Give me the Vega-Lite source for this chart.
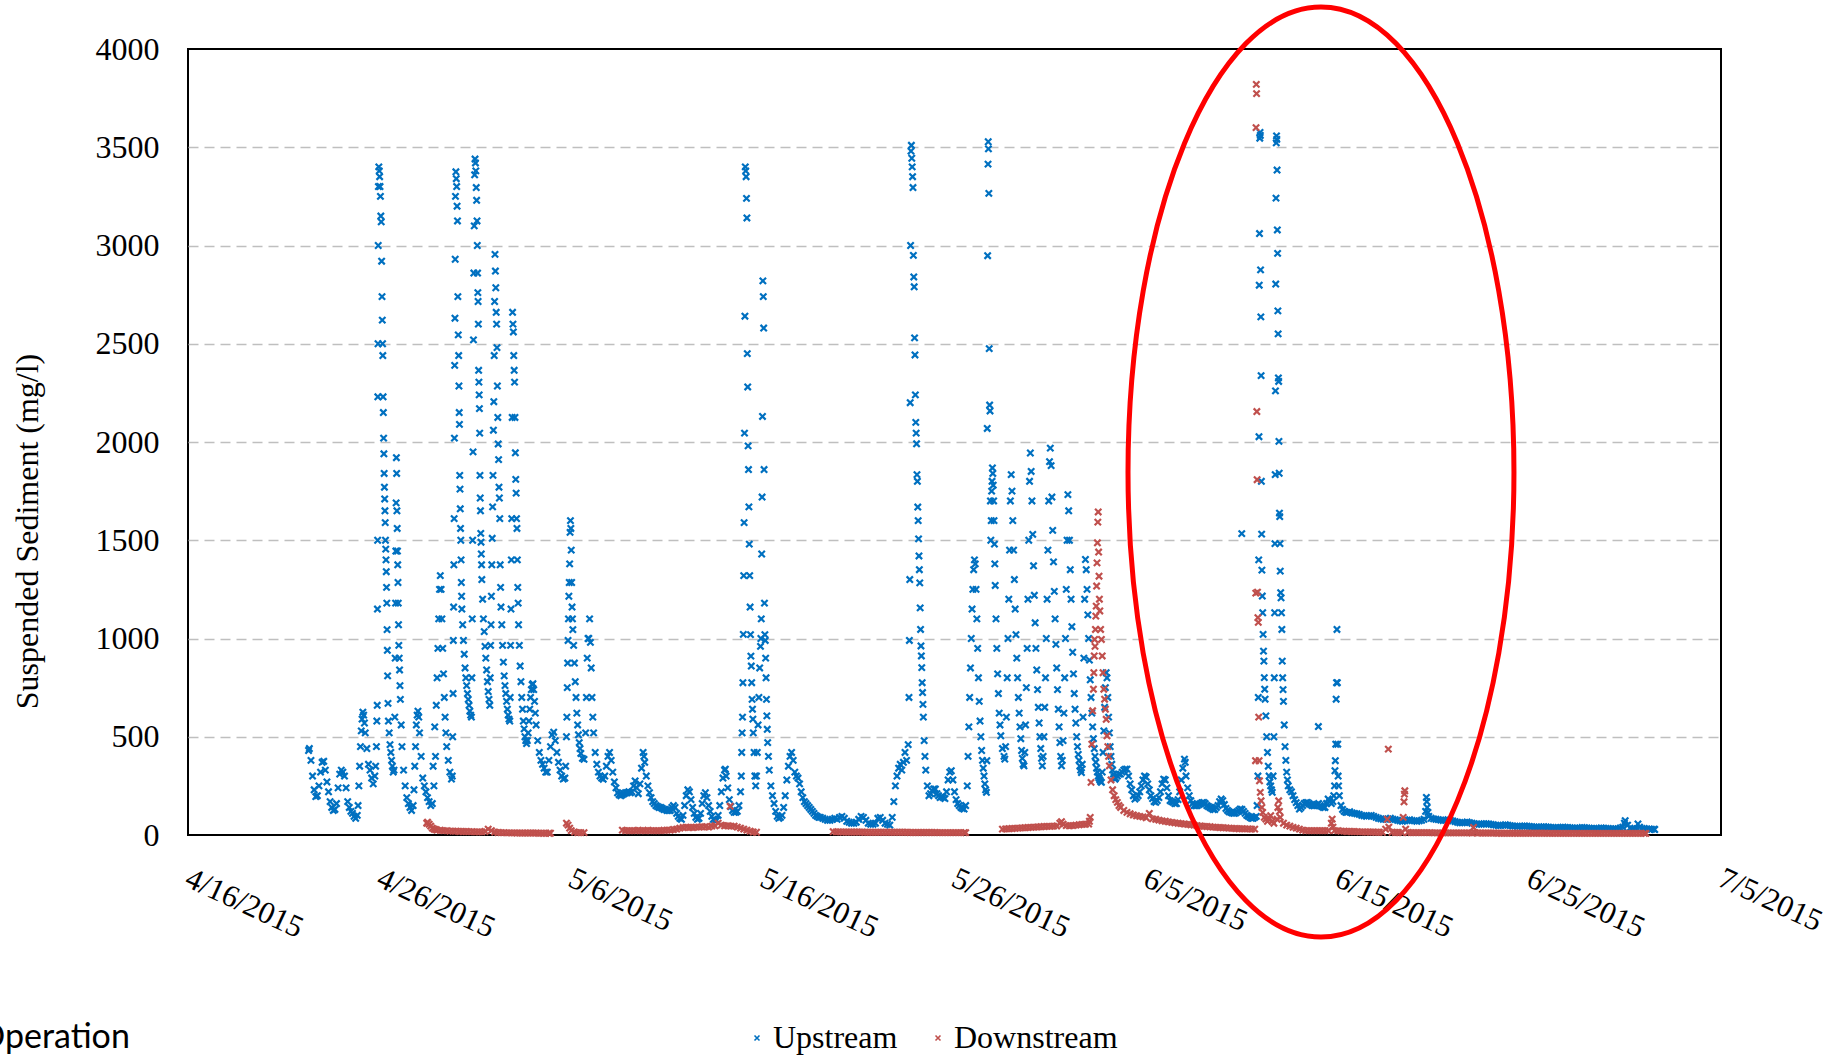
{
"$schema":"https://vega.github.io/schema/vega-lite/v6.json",
"width":1533,"height":786,
"autosize":{"type":"none"},
"padding":{"left":188,"top":49,"right":122,"bottom":220},
"background":"white",
"title":{"text":"Operation","orient":"bottom","anchor":"start","frame":"group","font":"Lato","fontSize":34,"fontWeight":"normal","color":"#000","baseline":"alphabetic","dx":-210,"dy":-6,"offset":0},
"config":{
"font":"Liberation Serif",
"view":{"stroke":"#000","strokeWidth":2},
"axis":{"labelFont":"Liberation Serif","labelFontSize":32,"labelColor":"#000","ticks":false,"domain":false,"titleFont":"Liberation Serif","titleFontSize":32,"titleFontWeight":"normal","titleColor":"#000"},
"legend":{"labelFont":"Liberation Serif","labelFontSize":32,"labelColor":"#000","labelLimit":0}
},
"layer":[
{"data":{"format":{"parse":{"t":"date:'%Y-%m-%d %H:%M'"}},"values":[
{"t":"2015-04-22 07:00","v":430},{"t":"2015-04-22 08:00","v":440},{"t":"2015-04-22 10:00","v":380},{"t":"2015-04-22 12:00","v":300},{"t":"2015-04-22 14:00","v":230},{"t":"2015-04-22 16:00","v":195},{"t":"2015-04-22 18:00","v":200},{"t":"2015-04-22 20:00","v":250},{"t":"2015-04-22 22:00","v":320},
{"t":"2015-04-23 00:00","v":370},{"t":"2015-04-23 02:00","v":375},{"t":"2015-04-23 04:00","v":330},{"t":"2015-04-23 06:00","v":270},{"t":"2015-04-23 08:00","v":220},{"t":"2015-04-23 10:00","v":170},{"t":"2015-04-23 12:00","v":140},{"t":"2015-04-23 14:00","v":125},{"t":"2015-04-23 16:00","v":130},{"t":"2015-04-23 18:00","v":160},{"t":"2015-04-23 20:00","v":240},{"t":"2015-04-23 22:00","v":310},
{"t":"2015-04-24 00:00","v":330},{"t":"2015-04-24 02:00","v":320},{"t":"2015-04-24 04:00","v":300},{"t":"2015-04-24 06:00","v":240},{"t":"2015-04-24 08:00","v":170},{"t":"2015-04-24 10:00","v":140},{"t":"2015-04-24 12:00","v":120},{"t":"2015-04-24 14:00","v":110},{"t":"2015-04-24 16:00","v":95},{"t":"2015-04-24 18:00","v":85},{"t":"2015-04-24 20:00","v":100},{"t":"2015-04-24 21:00","v":150},{"t":"2015-04-24 22:00","v":250},{"t":"2015-04-24 23:00","v":350},
{"t":"2015-04-25 00:00","v":450},{"t":"2015-04-25 01:00","v":530},{"t":"2015-04-25 02:00","v":590},{"t":"2015-04-25 03:00","v":625},{"t":"2015-04-25 04:00","v":610},{"t":"2015-04-25 05:00","v":570},{"t":"2015-04-25 06:00","v":520},{"t":"2015-04-25 08:00","v":440},{"t":"2015-04-25 10:00","v":360},{"t":"2015-04-25 12:00","v":330},{"t":"2015-04-25 14:00","v":290},{"t":"2015-04-25 16:00","v":260},{"t":"2015-04-25 18:00","v":300},{"t":"2015-04-25 19:00","v":350},{"t":"2015-04-25 20:00","v":450},{"t":"2015-04-25 20:30","v":580},{"t":"2015-04-25 21:00","v":660},{"t":"2015-04-25 21:15","v":1150},{"t":"2015-04-25 21:30","v":1500},{"t":"2015-04-25 21:45","v":2230},{"t":"2015-04-25 22:00","v":2500},{"t":"2015-04-25 22:15","v":3000},{"t":"2015-04-25 22:30","v":3300},{"t":"2015-04-25 23:00","v":3400},{"t":"2015-04-25 23:30","v":3380},
{"t":"2015-04-26 00:00","v":3350},{"t":"2015-04-26 00:30","v":3300},{"t":"2015-04-26 01:00","v":3250},{"t":"2015-04-26 01:30","v":3150},{"t":"2015-04-26 02:00","v":3120},{"t":"2015-04-26 02:30","v":2920},{"t":"2015-04-26 03:00","v":2740},{"t":"2015-04-26 03:20","v":2620},{"t":"2015-04-26 03:40","v":2500},{"t":"2015-04-26 04:00","v":2440},{"t":"2015-04-26 04:20","v":2230},{"t":"2015-04-26 04:40","v":2150},{"t":"2015-04-26 05:00","v":2020},{"t":"2015-04-26 05:20","v":1940},{"t":"2015-04-26 05:40","v":1840},{"t":"2015-04-26 06:00","v":1770},{"t":"2015-04-26 06:20","v":1710},{"t":"2015-04-26 06:40","v":1650},{"t":"2015-04-26 07:00","v":1590},{"t":"2015-04-26 07:20","v":1500},{"t":"2015-04-26 07:40","v":1455},{"t":"2015-04-26 08:00","v":1400},{"t":"2015-04-26 08:20","v":1340},{"t":"2015-04-26 08:40","v":1260},{"t":"2015-04-26 09:00","v":1180},{"t":"2015-04-26 09:20","v":1045},{"t":"2015-04-26 09:40","v":940},{"t":"2015-04-26 10:00","v":810},{"t":"2015-04-26 10:30","v":670},{"t":"2015-04-26 11:00","v":580},{"t":"2015-04-26 12:00","v":520},{"t":"2015-04-26 13:00","v":460},{"t":"2015-04-26 14:00","v":420},{"t":"2015-04-26 15:00","v":380},{"t":"2015-04-26 16:00","v":350},{"t":"2015-04-26 17:00","v":320},{"t":"2015-04-26 18:00","v":330},{"t":"2015-04-26 19:00","v":600},{"t":"2015-04-26 19:30","v":900},{"t":"2015-04-26 20:00","v":1180},{"t":"2015-04-26 20:20","v":1445},{"t":"2015-04-26 20:40","v":1690},{"t":"2015-04-26 21:00","v":1920},{"t":"2015-04-26 21:20","v":1840},{"t":"2015-04-26 21:40","v":1650},{"t":"2015-04-26 22:00","v":1560},{"t":"2015-04-26 22:20","v":1445},{"t":"2015-04-26 22:40","v":1375},{"t":"2015-04-26 23:00","v":1285},{"t":"2015-04-26 23:20","v":1180},{"t":"2015-04-26 23:40","v":1070},
{"t":"2015-04-27 00:00","v":965},{"t":"2015-04-27 00:30","v":900},{"t":"2015-04-27 01:00","v":840},{"t":"2015-04-27 01:30","v":760},{"t":"2015-04-27 02:00","v":690},{"t":"2015-04-27 03:00","v":560},{"t":"2015-04-27 04:00","v":450},{"t":"2015-04-27 06:00","v":330},{"t":"2015-04-27 08:00","v":250},{"t":"2015-04-27 10:00","v":190},{"t":"2015-04-27 12:00","v":160},{"t":"2015-04-27 14:00","v":140},{"t":"2015-04-27 16:00","v":125},{"t":"2015-04-27 18:00","v":150},{"t":"2015-04-27 19:00","v":230},{"t":"2015-04-27 20:00","v":350},{"t":"2015-04-27 21:00","v":450},{"t":"2015-04-27 22:00","v":560},{"t":"2015-04-27 23:00","v":610},
{"t":"2015-04-28 00:00","v":630},{"t":"2015-04-28 01:00","v":600},{"t":"2015-04-28 02:00","v":520},{"t":"2015-04-28 04:00","v":400},{"t":"2015-04-28 06:00","v":290},{"t":"2015-04-28 08:00","v":250},{"t":"2015-04-28 10:00","v":220},{"t":"2015-04-28 12:00","v":190},{"t":"2015-04-28 14:00","v":170},{"t":"2015-04-28 16:00","v":150},{"t":"2015-04-28 18:00","v":160},{"t":"2015-04-28 19:00","v":350},{"t":"2015-04-28 20:00","v":250},{"t":"2015-04-28 21:00","v":550},{"t":"2015-04-28 22:00","v":400},{"t":"2015-04-28 23:00","v":660},
{"t":"2015-04-29 00:00","v":800},{"t":"2015-04-29 01:00","v":950},{"t":"2015-04-29 02:00","v":1100},{"t":"2015-04-29 03:00","v":1250},{"t":"2015-04-29 04:00","v":1320},{"t":"2015-04-29 05:00","v":1250},{"t":"2015-04-29 06:00","v":1100},{"t":"2015-04-29 07:00","v":950},{"t":"2015-04-29 08:00","v":820},{"t":"2015-04-29 09:00","v":700},{"t":"2015-04-29 10:00","v":600},{"t":"2015-04-29 11:00","v":520},{"t":"2015-04-29 12:00","v":450},{"t":"2015-04-29 14:00","v":380},{"t":"2015-04-29 16:00","v":320},{"t":"2015-04-29 18:00","v":285},{"t":"2015-04-29 19:00","v":300},{"t":"2015-04-29 19:30","v":500},{"t":"2015-04-29 20:00","v":720},{"t":"2015-04-29 20:20","v":990},{"t":"2015-04-29 20:40","v":1160},{"t":"2015-04-29 21:00","v":1375},{"t":"2015-04-29 21:20","v":1610},{"t":"2015-04-29 21:40","v":2020},{"t":"2015-04-29 22:00","v":2390},{"t":"2015-04-29 22:20","v":2630},{"t":"2015-04-29 22:40","v":2930},{"t":"2015-04-29 23:00","v":3250},{"t":"2015-04-29 23:30","v":3375},
{"t":"2015-04-30 00:00","v":3340},{"t":"2015-04-30 00:30","v":3300},{"t":"2015-04-30 01:00","v":3200},{"t":"2015-04-30 01:30","v":3125},{"t":"2015-04-30 02:00","v":2740},{"t":"2015-04-30 02:30","v":2545},{"t":"2015-04-30 03:00","v":2440},{"t":"2015-04-30 03:20","v":2285},{"t":"2015-04-30 03:40","v":2150},{"t":"2015-04-30 04:00","v":2090},{"t":"2015-04-30 04:20","v":1830},{"t":"2015-04-30 04:40","v":1760},{"t":"2015-04-30 05:00","v":1660},{"t":"2015-04-30 05:20","v":1560},{"t":"2015-04-30 05:40","v":1500},{"t":"2015-04-30 06:00","v":1400},{"t":"2015-04-30 06:20","v":1285},{"t":"2015-04-30 06:40","v":1215},{"t":"2015-04-30 07:00","v":1150},{"t":"2015-04-30 08:00","v":1070},{"t":"2015-04-30 09:00","v":990},{"t":"2015-04-30 10:00","v":920},{"t":"2015-04-30 11:00","v":850},{"t":"2015-04-30 12:00","v":800},{"t":"2015-04-30 13:00","v":760},{"t":"2015-04-30 14:00","v":720},{"t":"2015-04-30 15:00","v":690},{"t":"2015-04-30 16:00","v":660},{"t":"2015-04-30 17:00","v":630},{"t":"2015-04-30 18:00","v":610},{"t":"2015-04-30 19:00","v":600},{"t":"2015-04-30 19:30","v":800},{"t":"2015-04-30 20:00","v":1100},{"t":"2015-04-30 20:30","v":1500},{"t":"2015-04-30 21:00","v":1950},{"t":"2015-04-30 21:30","v":2520},{"t":"2015-04-30 22:00","v":2860},{"t":"2015-04-30 22:30","v":3100},{"t":"2015-04-30 23:00","v":3360},{"t":"2015-04-30 23:30","v":3440},
{"t":"2015-05-01 00:00","v":3420},{"t":"2015-05-01 00:30","v":3380},{"t":"2015-05-01 01:00","v":3295},{"t":"2015-05-01 01:30","v":3230},{"t":"2015-05-01 02:00","v":3125},{"t":"2015-05-01 02:20","v":3000},{"t":"2015-05-01 02:40","v":2860},{"t":"2015-05-01 03:00","v":2760},{"t":"2015-05-01 03:20","v":2715},{"t":"2015-05-01 03:40","v":2600},{"t":"2015-05-01 04:00","v":2365},{"t":"2015-05-01 04:20","v":2305},{"t":"2015-05-01 04:40","v":2240},{"t":"2015-05-01 05:00","v":2170},{"t":"2015-05-01 05:20","v":2045},{"t":"2015-05-01 05:40","v":1830},{"t":"2015-05-01 06:00","v":1715},{"t":"2015-05-01 06:20","v":1650},{"t":"2015-05-01 06:40","v":1535},{"t":"2015-05-01 07:00","v":1490},{"t":"2015-05-01 07:20","v":1430},{"t":"2015-05-01 07:40","v":1375},{"t":"2015-05-01 08:00","v":1300},{"t":"2015-05-01 09:00","v":1200},{"t":"2015-05-01 10:00","v":1100},{"t":"2015-05-01 11:00","v":1035},{"t":"2015-05-01 12:00","v":960},{"t":"2015-05-01 13:00","v":900},{"t":"2015-05-01 14:00","v":840},{"t":"2015-05-01 15:00","v":780},{"t":"2015-05-01 16:00","v":730},{"t":"2015-05-01 17:00","v":690},{"t":"2015-05-01 18:00","v":660},{"t":"2015-05-01 18:30","v":800},{"t":"2015-05-01 19:00","v":965},{"t":"2015-05-01 19:30","v":1070},{"t":"2015-05-01 20:00","v":1215},{"t":"2015-05-01 20:30","v":1375},{"t":"2015-05-01 21:00","v":1510},{"t":"2015-05-01 21:30","v":1670},{"t":"2015-05-01 22:00","v":1830},{"t":"2015-05-01 22:30","v":2060},{"t":"2015-05-01 23:00","v":2205},{"t":"2015-05-01 23:30","v":2440},
{"t":"2015-05-02 00:00","v":2715},{"t":"2015-05-02 00:30","v":2955},{"t":"2015-05-02 01:00","v":2870},{"t":"2015-05-02 01:30","v":2785},{"t":"2015-05-02 02:00","v":2660},{"t":"2015-05-02 02:30","v":2600},{"t":"2015-05-02 03:00","v":2480},{"t":"2015-05-02 03:30","v":2285},{"t":"2015-05-02 04:00","v":2125},{"t":"2015-05-02 04:30","v":1990},{"t":"2015-05-02 05:00","v":1910},{"t":"2015-05-02 05:30","v":1770},{"t":"2015-05-02 06:00","v":1715},{"t":"2015-05-02 06:30","v":1610},{"t":"2015-05-02 07:00","v":1375},{"t":"2015-05-02 07:30","v":1260},{"t":"2015-05-02 08:00","v":1160},{"t":"2015-05-02 09:00","v":1070},{"t":"2015-05-02 10:00","v":965},{"t":"2015-05-02 11:00","v":880},{"t":"2015-05-02 12:00","v":810},{"t":"2015-05-02 13:00","v":760},{"t":"2015-05-02 14:00","v":720},{"t":"2015-05-02 15:00","v":680},{"t":"2015-05-02 16:00","v":640},{"t":"2015-05-02 17:00","v":610},{"t":"2015-05-02 18:00","v":590},{"t":"2015-05-02 19:00","v":580},{"t":"2015-05-02 19:30","v":700},{"t":"2015-05-02 20:00","v":965},{"t":"2015-05-02 20:30","v":1150},{"t":"2015-05-02 21:00","v":1400},{"t":"2015-05-02 21:30","v":1610},{"t":"2015-05-02 22:00","v":2125},{"t":"2015-05-02 22:30","v":2660},{"t":"2015-05-02 23:00","v":2600},{"t":"2015-05-02 23:30","v":2560},
{"t":"2015-05-03 00:00","v":2440},{"t":"2015-05-03 00:30","v":2365},{"t":"2015-05-03 01:00","v":2305},{"t":"2015-05-03 01:30","v":2125},{"t":"2015-05-03 02:00","v":1945},{"t":"2015-05-03 02:30","v":1810},{"t":"2015-05-03 03:00","v":1740},{"t":"2015-05-03 03:30","v":1610},{"t":"2015-05-03 04:00","v":1560},{"t":"2015-05-03 04:30","v":1400},{"t":"2015-05-03 05:00","v":1260},{"t":"2015-05-03 05:30","v":1180},{"t":"2015-05-03 06:00","v":1070},{"t":"2015-05-03 07:00","v":965},{"t":"2015-05-03 08:00","v":860},{"t":"2015-05-03 09:00","v":780},{"t":"2015-05-03 10:00","v":700},{"t":"2015-05-03 11:00","v":640},{"t":"2015-05-03 12:00","v":580},{"t":"2015-05-03 13:00","v":540},{"t":"2015-05-03 14:00","v":500},{"t":"2015-05-03 15:00","v":480},{"t":"2015-05-03 16:00","v":465},{"t":"2015-05-03 17:00","v":480},{"t":"2015-05-03 18:00","v":520},{"t":"2015-05-03 19:00","v":580},{"t":"2015-05-03 20:00","v":640},{"t":"2015-05-03 21:00","v":700},{"t":"2015-05-03 22:00","v":740},{"t":"2015-05-03 23:00","v":765},
{"t":"2015-05-04 00:00","v":770},{"t":"2015-05-04 01:00","v":740},{"t":"2015-05-04 02:00","v":680},{"t":"2015-05-04 03:00","v":620},{"t":"2015-05-04 04:00","v":560},{"t":"2015-05-04 06:00","v":480},{"t":"2015-05-04 08:00","v":420},{"t":"2015-05-04 10:00","v":380},{"t":"2015-05-04 12:00","v":360},{"t":"2015-05-04 14:00","v":340},{"t":"2015-05-04 16:00","v":320},{"t":"2015-05-04 18:00","v":320},{"t":"2015-05-04 20:00","v":380},{"t":"2015-05-04 22:00","v":450},
{"t":"2015-05-05 00:00","v":510},{"t":"2015-05-05 02:00","v":523},{"t":"2015-05-05 04:00","v":480},{"t":"2015-05-05 06:00","v":420},{"t":"2015-05-05 08:00","v":370},{"t":"2015-05-05 10:00","v":330},{"t":"2015-05-05 12:00","v":300},{"t":"2015-05-05 14:00","v":285},{"t":"2015-05-05 16:00","v":290},{"t":"2015-05-05 17:00","v":350},{"t":"2015-05-05 18:00","v":500},{"t":"2015-05-05 18:30","v":600},{"t":"2015-05-05 19:00","v":750},{"t":"2015-05-05 19:30","v":875},{"t":"2015-05-05 20:00","v":990},{"t":"2015-05-05 20:30","v":1100},{"t":"2015-05-05 21:00","v":1215},{"t":"2015-05-05 21:30","v":1285},{"t":"2015-05-05 22:00","v":1380},{"t":"2015-05-05 22:30","v":1540},{"t":"2015-05-05 23:00","v":1600},{"t":"2015-05-05 23:30","v":1560},
{"t":"2015-05-06 00:00","v":1450},{"t":"2015-05-06 00:30","v":1285},{"t":"2015-05-06 01:00","v":1160},{"t":"2015-05-06 01:30","v":1100},{"t":"2015-05-06 02:00","v":1045},{"t":"2015-05-06 03:00","v":965},{"t":"2015-05-06 04:00","v":875},{"t":"2015-05-06 05:00","v":780},{"t":"2015-05-06 06:00","v":700},{"t":"2015-05-06 07:00","v":620},{"t":"2015-05-06 08:00","v":560},{"t":"2015-05-06 09:00","v":510},{"t":"2015-05-06 10:00","v":470},{"t":"2015-05-06 11:00","v":440},{"t":"2015-05-06 12:00","v":415},{"t":"2015-05-06 14:00","v":390},{"t":"2015-05-06 16:00","v":385},{"t":"2015-05-06 18:00","v":520},{"t":"2015-05-06 19:00","v":700},{"t":"2015-05-06 20:00","v":900},{"t":"2015-05-06 21:00","v":1000},{"t":"2015-05-06 22:00","v":1000},{"t":"2015-05-06 23:00","v":1100},
{"t":"2015-05-07 00:00","v":980},{"t":"2015-05-07 01:00","v":850},{"t":"2015-05-07 02:00","v":700},{"t":"2015-05-07 03:00","v":600},{"t":"2015-05-07 04:00","v":520},{"t":"2015-05-07 06:00","v":420},{"t":"2015-05-07 08:00","v":360},{"t":"2015-05-07 10:00","v":320},{"t":"2015-05-07 12:00","v":300},{"t":"2015-05-07 14:00","v":290},{"t":"2015-05-07 16:00","v":284},{"t":"2015-05-07 18:00","v":300},{"t":"2015-05-07 20:00","v":350},{"t":"2015-05-07 22:00","v":400},
{"t":"2015-05-08 00:00","v":420},{"t":"2015-05-08 02:00","v":380},{"t":"2015-05-08 04:00","v":320},{"t":"2015-05-08 06:00","v":270},{"t":"2015-05-08 08:00","v":240},{"t":"2015-05-08 10:00","v":215},{"t":"2015-05-08 12:00","v":205},{"t":"2015-05-08 14:00","v":200},{"t":"2015-05-08 16:00","v":205},{"t":"2015-05-08 18:00","v":210},{"t":"2015-05-08 20:00","v":215},{"t":"2015-05-08 22:00","v":215},
{"t":"2015-05-09 00:00","v":220},{"t":"2015-05-09 02:00","v":215},{"t":"2015-05-09 04:00","v":220},{"t":"2015-05-09 06:00","v":250},{"t":"2015-05-09 08:00","v":275},{"t":"2015-05-09 10:00","v":240},{"t":"2015-05-09 12:00","v":210},{"t":"2015-05-09 14:00","v":260},{"t":"2015-05-09 16:00","v":340},{"t":"2015-05-09 18:00","v":420},{"t":"2015-05-09 19:00","v":400},{"t":"2015-05-09 20:00","v":370},{"t":"2015-05-09 22:00","v":300},
{"t":"2015-05-10 00:00","v":250},{"t":"2015-05-10 02:00","v":215},{"t":"2015-05-10 04:00","v":190},{"t":"2015-05-10 06:00","v":170},{"t":"2015-05-10 08:00","v":160},{"t":"2015-05-10 10:00","v":150},{"t":"2015-05-10 12:00","v":145},{"t":"2015-05-10 14:00","v":140},{"t":"2015-05-10 16:00","v":140},{"t":"2015-05-10 18:00","v":135},{"t":"2015-05-10 20:00","v":130},{"t":"2015-05-10 22:00","v":130},
{"t":"2015-05-11 00:00","v":125},{"t":"2015-05-11 02:00","v":125},{"t":"2015-05-11 04:00","v":125},{"t":"2015-05-11 06:00","v":140},{"t":"2015-05-11 08:00","v":150},{"t":"2015-05-11 10:00","v":140},{"t":"2015-05-11 12:00","v":110},{"t":"2015-05-11 14:00","v":95},{"t":"2015-05-11 16:00","v":85},{"t":"2015-05-11 18:00","v":80},{"t":"2015-05-11 20:00","v":100},{"t":"2015-05-11 22:00","v":150},
{"t":"2015-05-12 00:00","v":200},{"t":"2015-05-12 02:00","v":230},{"t":"2015-05-12 04:00","v":220},{"t":"2015-05-12 06:00","v":180},{"t":"2015-05-12 08:00","v":140},{"t":"2015-05-12 10:00","v":110},{"t":"2015-05-12 12:00","v":90},{"t":"2015-05-12 14:00","v":80},{"t":"2015-05-12 16:00","v":85},{"t":"2015-05-12 18:00","v":110},{"t":"2015-05-12 20:00","v":160},{"t":"2015-05-12 22:00","v":200},
{"t":"2015-05-13 00:00","v":215},{"t":"2015-05-13 02:00","v":190},{"t":"2015-05-13 04:00","v":150},{"t":"2015-05-13 06:00","v":120},{"t":"2015-05-13 08:00","v":95},{"t":"2015-05-13 10:00","v":80},{"t":"2015-05-13 12:00","v":75},{"t":"2015-05-13 14:00","v":75},{"t":"2015-05-13 16:00","v":100},{"t":"2015-05-13 18:00","v":150},{"t":"2015-05-13 20:00","v":220},{"t":"2015-05-13 22:00","v":290},
{"t":"2015-05-14 00:00","v":330},{"t":"2015-05-14 01:00","v":335},{"t":"2015-05-14 02:00","v":300},{"t":"2015-05-14 04:00","v":240},{"t":"2015-05-14 06:00","v":180},{"t":"2015-05-14 08:00","v":145},{"t":"2015-05-14 10:00","v":125},{"t":"2015-05-14 12:00","v":115},{"t":"2015-05-14 14:00","v":115},{"t":"2015-05-14 16:00","v":120},{"t":"2015-05-14 18:00","v":150},{"t":"2015-05-14 20:00","v":220},{"t":"2015-05-14 21:00","v":300},{"t":"2015-05-14 21:30","v":420},{"t":"2015-05-14 22:00","v":520},{"t":"2015-05-14 22:30","v":600},{"t":"2015-05-14 23:00","v":775},{"t":"2015-05-14 23:30","v":1021},
{"t":"2015-05-15 00:00","v":1320},{"t":"2015-05-15 00:30","v":1590},{"t":"2015-05-15 01:00","v":2045},{"t":"2015-05-15 01:30","v":2640},{"t":"2015-05-15 02:00","v":3400},{"t":"2015-05-15 02:30","v":3380},{"t":"2015-05-15 03:00","v":3350},{"t":"2015-05-15 03:30","v":3240},{"t":"2015-05-15 04:00","v":3140},{"t":"2015-05-15 04:30","v":2450},{"t":"2015-05-15 05:00","v":2280},{"t":"2015-05-15 05:30","v":1980},{"t":"2015-05-15 06:00","v":1860},{"t":"2015-05-15 06:30","v":1670},{"t":"2015-05-15 07:00","v":1480},{"t":"2015-05-15 07:30","v":1320},{"t":"2015-05-15 08:00","v":1160},{"t":"2015-05-15 08:30","v":1020},{"t":"2015-05-15 09:00","v":910},{"t":"2015-05-15 09:30","v":860},{"t":"2015-05-15 10:00","v":775},{"t":"2015-05-15 10:30","v":690},{"t":"2015-05-15 11:00","v":640},{"t":"2015-05-15 11:30","v":590},{"t":"2015-05-15 12:00","v":520},{"t":"2015-05-15 13:00","v":420},{"t":"2015-05-15 14:00","v":300},{"t":"2015-05-15 15:00","v":250},{"t":"2015-05-15 16:00","v":300},{"t":"2015-05-15 17:00","v":420},{"t":"2015-05-15 18:00","v":560},{"t":"2015-05-15 19:00","v":700},{"t":"2015-05-15 20:00","v":850},{"t":"2015-05-15 21:00","v":960},{"t":"2015-05-15 21:30","v":1000},{"t":"2015-05-15 22:00","v":1100},{"t":"2015-05-15 22:30","v":1430},{"t":"2015-05-15 23:00","v":1720},{"t":"2015-05-15 23:30","v":2130},
{"t":"2015-05-16 00:00","v":2820},{"t":"2015-05-16 00:30","v":2740},{"t":"2015-05-16 01:00","v":2580},{"t":"2015-05-16 01:30","v":1860},{"t":"2015-05-16 02:00","v":1180},{"t":"2015-05-16 02:30","v":1020},{"t":"2015-05-16 03:00","v":990},{"t":"2015-05-16 03:30","v":900},{"t":"2015-05-16 04:00","v":800},{"t":"2015-05-16 04:30","v":690},{"t":"2015-05-16 05:00","v":606},{"t":"2015-05-16 05:30","v":538},{"t":"2015-05-16 06:00","v":470},{"t":"2015-05-16 07:00","v":400},{"t":"2015-05-16 08:00","v":330},{"t":"2015-05-16 10:00","v":250},{"t":"2015-05-16 12:00","v":200},{"t":"2015-05-16 14:00","v":160},{"t":"2015-05-16 16:00","v":120},{"t":"2015-05-16 18:00","v":95},{"t":"2015-05-16 20:00","v":85},{"t":"2015-05-16 22:00","v":90},
{"t":"2015-05-17 00:00","v":100},{"t":"2015-05-17 02:00","v":140},{"t":"2015-05-17 04:00","v":200},{"t":"2015-05-17 06:00","v":280},{"t":"2015-05-17 08:00","v":350},{"t":"2015-05-17 10:00","v":400},{"t":"2015-05-17 12:00","v":420},{"t":"2015-05-17 14:00","v":380},{"t":"2015-05-17 16:00","v":320},{"t":"2015-05-17 18:00","v":300},{"t":"2015-05-17 20:00","v":290},{"t":"2015-05-17 22:00","v":260},
{"t":"2015-05-18 00:00","v":220},{"t":"2015-05-18 02:00","v":190},{"t":"2015-05-18 04:00","v":170},{"t":"2015-05-18 06:00","v":160},{"t":"2015-05-18 08:00","v":150},{"t":"2015-05-18 10:00","v":140},{"t":"2015-05-18 12:00","v":130},{"t":"2015-05-18 14:00","v":120},{"t":"2015-05-18 16:00","v":110},{"t":"2015-05-18 18:00","v":100},{"t":"2015-05-18 20:00","v":95},{"t":"2015-05-18 22:00","v":90},
{"t":"2015-05-19 00:00","v":90},{"t":"2015-05-19 03:00","v":85},{"t":"2015-05-19 06:00","v":80},{"t":"2015-05-19 09:00","v":75},{"t":"2015-05-19 12:00","v":75},{"t":"2015-05-19 15:00","v":80},{"t":"2015-05-19 18:00","v":85},{"t":"2015-05-19 21:00","v":80},
{"t":"2015-05-20 00:00","v":90},{"t":"2015-05-20 03:00","v":95},{"t":"2015-05-20 06:00","v":85},{"t":"2015-05-20 09:00","v":70},{"t":"2015-05-20 12:00","v":65},{"t":"2015-05-20 15:00","v":60},{"t":"2015-05-20 18:00","v":60},{"t":"2015-05-20 21:00","v":65},
{"t":"2015-05-21 00:00","v":80},{"t":"2015-05-21 03:00","v":95},{"t":"2015-05-21 06:00","v":90},{"t":"2015-05-21 09:00","v":75},{"t":"2015-05-21 12:00","v":60},{"t":"2015-05-21 15:00","v":55},{"t":"2015-05-21 18:00","v":55},{"t":"2015-05-21 21:00","v":60},
{"t":"2015-05-22 00:00","v":85},{"t":"2015-05-22 03:00","v":90},{"t":"2015-05-22 06:00","v":75},{"t":"2015-05-22 09:00","v":60},{"t":"2015-05-22 12:00","v":55},{"t":"2015-05-22 15:00","v":50},{"t":"2015-05-22 18:00","v":90},{"t":"2015-05-22 20:00","v":170},{"t":"2015-05-22 22:00","v":250},
{"t":"2015-05-23 00:00","v":300},{"t":"2015-05-23 02:00","v":340},{"t":"2015-05-23 04:00","v":360},{"t":"2015-05-23 06:00","v":330},{"t":"2015-05-23 08:00","v":370},{"t":"2015-05-23 10:00","v":420},{"t":"2015-05-23 12:00","v":380},{"t":"2015-05-23 14:00","v":460},{"t":"2015-05-23 15:00","v":700},{"t":"2015-05-23 15:30","v":990},{"t":"2015-05-23 16:00","v":1300},{"t":"2015-05-23 16:30","v":2200},{"t":"2015-05-23 17:00","v":3000},{"t":"2015-05-23 17:30","v":3480},{"t":"2015-05-23 18:00","v":3510},{"t":"2015-05-23 18:30","v":3444},{"t":"2015-05-23 19:00","v":3400},{"t":"2015-05-23 19:30","v":3350},{"t":"2015-05-23 20:00","v":3295},{"t":"2015-05-23 20:30","v":2950},{"t":"2015-05-23 21:00","v":2840},{"t":"2015-05-23 21:30","v":2790},{"t":"2015-05-23 22:00","v":2530},{"t":"2015-05-23 22:30","v":2443},{"t":"2015-05-23 23:00","v":2240},{"t":"2015-05-23 23:30","v":2100},
{"t":"2015-05-24 00:00","v":2045},{"t":"2015-05-24 00:30","v":1991},{"t":"2015-05-24 01:00","v":1834},{"t":"2015-05-24 01:30","v":1800},{"t":"2015-05-24 02:00","v":1669},{"t":"2015-05-24 02:30","v":1600},{"t":"2015-05-24 03:00","v":1507},{"t":"2015-05-24 03:30","v":1420},{"t":"2015-05-24 04:00","v":1350},{"t":"2015-05-24 04:30","v":1283},{"t":"2015-05-24 05:00","v":1156},{"t":"2015-05-24 05:30","v":1046},{"t":"2015-05-24 06:00","v":962},{"t":"2015-05-24 06:30","v":911},{"t":"2015-05-24 07:00","v":852},{"t":"2015-05-24 07:30","v":775},{"t":"2015-05-24 08:00","v":725},{"t":"2015-05-24 08:30","v":665},{"t":"2015-05-24 09:00","v":600},{"t":"2015-05-24 10:00","v":480},{"t":"2015-05-24 11:00","v":400},{"t":"2015-05-24 12:00","v":330},{"t":"2015-05-24 14:00","v":250},{"t":"2015-05-24 16:00","v":200},{"t":"2015-05-24 18:00","v":210},{"t":"2015-05-24 20:00","v":225},{"t":"2015-05-24 22:00","v":235},
{"t":"2015-05-25 00:00","v":234},{"t":"2015-05-25 02:00","v":210},{"t":"2015-05-25 04:00","v":200},{"t":"2015-05-25 06:00","v":190},{"t":"2015-05-25 08:00","v":195},{"t":"2015-05-25 10:00","v":190},{"t":"2015-05-25 12:00","v":185},{"t":"2015-05-25 14:00","v":220},{"t":"2015-05-25 16:00","v":280},{"t":"2015-05-25 18:00","v":320},{"t":"2015-05-25 20:00","v":327},{"t":"2015-05-25 22:00","v":280},
{"t":"2015-05-26 00:00","v":220},{"t":"2015-05-26 02:00","v":180},{"t":"2015-05-26 04:00","v":160},{"t":"2015-05-26 06:00","v":150},{"t":"2015-05-26 08:00","v":140},{"t":"2015-05-26 10:00","v":135},{"t":"2015-05-26 12:00","v":132},{"t":"2015-05-26 14:00","v":150},{"t":"2015-05-26 16:00","v":250},{"t":"2015-05-26 17:00","v":400},{"t":"2015-05-26 18:00","v":550},{"t":"2015-05-26 19:00","v":700},{"t":"2015-05-26 20:00","v":850},{"t":"2015-05-26 21:00","v":1000},{"t":"2015-05-26 22:00","v":1150},{"t":"2015-05-26 23:00","v":1250},
{"t":"2015-05-27 00:00","v":1350},{"t":"2015-05-27 01:00","v":1400},{"t":"2015-05-27 02:00","v":1380},{"t":"2015-05-27 03:00","v":1250},{"t":"2015-05-27 04:00","v":1100},{"t":"2015-05-27 05:00","v":950},{"t":"2015-05-27 06:00","v":800},{"t":"2015-05-27 07:00","v":680},{"t":"2015-05-27 08:00","v":580},{"t":"2015-05-27 09:00","v":500},{"t":"2015-05-27 10:00","v":430},{"t":"2015-05-27 11:00","v":380},{"t":"2015-05-27 12:00","v":340},{"t":"2015-05-27 13:00","v":300},{"t":"2015-05-27 14:00","v":260},{"t":"2015-05-27 15:00","v":230},{"t":"2015-05-27 16:00","v":217},{"t":"2015-05-27 16:30","v":378},{"t":"2015-05-27 17:00","v":2069},{"t":"2015-05-27 17:30","v":2948},{"t":"2015-05-27 18:00","v":3414},{"t":"2015-05-27 18:15","v":3528},{"t":"2015-05-27 18:30","v":3492},{"t":"2015-05-27 19:00","v":3265},{"t":"2015-05-27 19:30","v":2475},{"t":"2015-05-27 20:00","v":2188},{"t":"2015-05-27 20:30","v":2158},{"t":"2015-05-27 21:00","v":1700},{"t":"2015-05-27 21:30","v":1500},{"t":"2015-05-27 22:00","v":1600},{"t":"2015-05-27 22:30","v":1750},{"t":"2015-05-27 23:00","v":1800},{"t":"2015-05-27 23:30","v":1868},
{"t":"2015-05-28 00:00","v":1840},{"t":"2015-05-28 00:30","v":1780},{"t":"2015-05-28 01:00","v":1700},{"t":"2015-05-28 01:30","v":1600},{"t":"2015-05-28 02:00","v":1480},{"t":"2015-05-28 02:30","v":1380},{"t":"2015-05-28 03:00","v":1270},{"t":"2015-05-28 04:00","v":1100},{"t":"2015-05-28 05:00","v":950},{"t":"2015-05-28 06:00","v":820},{"t":"2015-05-28 07:00","v":720},{"t":"2015-05-28 08:00","v":620},{"t":"2015-05-28 09:00","v":560},{"t":"2015-05-28 10:00","v":505},{"t":"2015-05-28 12:00","v":440},{"t":"2015-05-28 14:00","v":400},{"t":"2015-05-28 15:00","v":386},{"t":"2015-05-28 16:00","v":450},{"t":"2015-05-28 17:00","v":600},{"t":"2015-05-28 18:00","v":800},{"t":"2015-05-28 19:00","v":1000},{"t":"2015-05-28 20:00","v":1200},{"t":"2015-05-28 21:00","v":1450},{"t":"2015-05-28 22:00","v":1700},{"t":"2015-05-28 23:00","v":1834},
{"t":"2015-05-29 00:00","v":1750},{"t":"2015-05-29 01:00","v":1600},{"t":"2015-05-29 02:00","v":1450},{"t":"2015-05-29 03:00","v":1300},{"t":"2015-05-29 04:00","v":1150},{"t":"2015-05-29 05:00","v":1020},{"t":"2015-05-29 06:00","v":900},{"t":"2015-05-29 07:00","v":800},{"t":"2015-05-29 08:00","v":700},{"t":"2015-05-29 09:00","v":620},{"t":"2015-05-29 10:00","v":550},{"t":"2015-05-29 11:00","v":490},{"t":"2015-05-29 12:00","v":430},{"t":"2015-05-29 13:00","v":390},{"t":"2015-05-29 14:00","v":360},{"t":"2015-05-29 15:00","v":352},{"t":"2015-05-29 16:00","v":420},{"t":"2015-05-29 17:00","v":560},{"t":"2015-05-29 18:00","v":750},{"t":"2015-05-29 19:00","v":950},{"t":"2015-05-29 20:00","v":1200},{"t":"2015-05-29 21:00","v":1500},{"t":"2015-05-29 22:00","v":1800},{"t":"2015-05-29 23:00","v":1944},
{"t":"2015-05-30 00:00","v":1850},{"t":"2015-05-30 01:00","v":1700},{"t":"2015-05-30 02:00","v":1530},{"t":"2015-05-30 03:00","v":1370},{"t":"2015-05-30 04:00","v":1220},{"t":"2015-05-30 05:00","v":1080},{"t":"2015-05-30 06:00","v":950},{"t":"2015-05-30 07:00","v":840},{"t":"2015-05-30 08:00","v":740},{"t":"2015-05-30 09:00","v":650},{"t":"2015-05-30 10:00","v":570},{"t":"2015-05-30 11:00","v":500},{"t":"2015-05-30 12:00","v":440},{"t":"2015-05-30 13:00","v":390},{"t":"2015-05-30 14:00","v":352},{"t":"2015-05-30 15:00","v":400},{"t":"2015-05-30 16:00","v":500},{"t":"2015-05-30 17:00","v":650},{"t":"2015-05-30 18:00","v":800},{"t":"2015-05-30 19:00","v":1000},{"t":"2015-05-30 20:00","v":1200},{"t":"2015-05-30 21:00","v":1450},{"t":"2015-05-30 22:00","v":1700},{"t":"2015-05-30 23:00","v":1900},
{"t":"2015-05-31 00:00","v":1969},{"t":"2015-05-31 01:00","v":1880},{"t":"2015-05-31 02:00","v":1720},{"t":"2015-05-31 03:00","v":1550},{"t":"2015-05-31 04:00","v":1390},{"t":"2015-05-31 05:00","v":1240},{"t":"2015-05-31 06:00","v":1100},{"t":"2015-05-31 07:00","v":970},{"t":"2015-05-31 08:00","v":850},{"t":"2015-05-31 09:00","v":740},{"t":"2015-05-31 10:00","v":640},{"t":"2015-05-31 11:00","v":550},{"t":"2015-05-31 12:00","v":470},{"t":"2015-05-31 13:00","v":400},{"t":"2015-05-31 14:00","v":352},{"t":"2015-05-31 15:00","v":380},{"t":"2015-05-31 16:00","v":480},{"t":"2015-05-31 17:00","v":620},{"t":"2015-05-31 18:00","v":800},{"t":"2015-05-31 19:00","v":1000},{"t":"2015-05-31 20:00","v":1250},{"t":"2015-05-31 21:00","v":1500},{"t":"2015-05-31 22:00","v":1732},{"t":"2015-05-31 23:00","v":1650},
{"t":"2015-06-01 00:00","v":1500},{"t":"2015-06-01 01:00","v":1350},{"t":"2015-06-01 02:00","v":1200},{"t":"2015-06-01 03:00","v":1060},{"t":"2015-06-01 04:00","v":930},{"t":"2015-06-01 05:00","v":820},{"t":"2015-06-01 06:00","v":720},{"t":"2015-06-01 07:00","v":640},{"t":"2015-06-01 08:00","v":570},{"t":"2015-06-01 09:00","v":500},{"t":"2015-06-01 10:00","v":450},{"t":"2015-06-01 11:00","v":410},{"t":"2015-06-01 12:00","v":380},{"t":"2015-06-01 13:00","v":350},{"t":"2015-06-01 14:00","v":330},{"t":"2015-06-01 15:00","v":318},{"t":"2015-06-01 16:00","v":360},{"t":"2015-06-01 17:00","v":600},{"t":"2015-06-01 18:00","v":900},{"t":"2015-06-01 19:00","v":1200},{"t":"2015-06-01 20:00","v":1402},{"t":"2015-06-01 21:00","v":1350},{"t":"2015-06-01 22:00","v":1250},{"t":"2015-06-01 23:00","v":1120},
{"t":"2015-06-02 00:00","v":1000},{"t":"2015-06-02 01:00","v":890},{"t":"2015-06-02 02:00","v":790},{"t":"2015-06-02 03:00","v":700},{"t":"2015-06-02 04:00","v":620},{"t":"2015-06-02 05:00","v":550},{"t":"2015-06-02 06:00","v":490},{"t":"2015-06-02 07:00","v":440},{"t":"2015-06-02 08:00","v":400},{"t":"2015-06-02 09:00","v":370},{"t":"2015-06-02 10:00","v":340},{"t":"2015-06-02 11:00","v":320},{"t":"2015-06-02 12:00","v":300},{"t":"2015-06-02 13:00","v":290},{"t":"2015-06-02 14:00","v":280},{"t":"2015-06-02 15:00","v":272},{"t":"2015-06-02 16:00","v":268},{"t":"2015-06-02 17:00","v":320},{"t":"2015-06-02 18:00","v":420},{"t":"2015-06-02 19:00","v":530},{"t":"2015-06-02 20:00","v":650},{"t":"2015-06-02 21:00","v":750},{"t":"2015-06-02 22:00","v":826},{"t":"2015-06-02 23:00","v":800},
{"t":"2015-06-03 00:00","v":700},{"t":"2015-06-03 01:00","v":600},{"t":"2015-06-03 02:00","v":520},{"t":"2015-06-03 03:00","v":450},{"t":"2015-06-03 04:00","v":400},{"t":"2015-06-03 05:00","v":360},{"t":"2015-06-03 06:00","v":330},{"t":"2015-06-03 07:00","v":310},{"t":"2015-06-03 08:00","v":295},{"t":"2015-06-03 09:00","v":284},{"t":"2015-06-03 10:00","v":290},{"t":"2015-06-03 12:00","v":300},{"t":"2015-06-03 14:00","v":310},{"t":"2015-06-03 16:00","v":310},{"t":"2015-06-03 18:00","v":320},{"t":"2015-06-03 20:00","v":330},{"t":"2015-06-03 22:00","v":335},
{"t":"2015-06-04 00:00","v":335},{"t":"2015-06-04 02:00","v":300},{"t":"2015-06-04 04:00","v":260},{"t":"2015-06-04 06:00","v":230},{"t":"2015-06-04 08:00","v":200},{"t":"2015-06-04 10:00","v":183},{"t":"2015-06-04 12:00","v":190},{"t":"2015-06-04 14:00","v":200},{"t":"2015-06-04 16:00","v":220},{"t":"2015-06-04 18:00","v":250},{"t":"2015-06-04 20:00","v":280},{"t":"2015-06-04 22:00","v":300},
{"t":"2015-06-05 00:00","v":295},{"t":"2015-06-05 02:00","v":260},{"t":"2015-06-05 04:00","v":230},{"t":"2015-06-05 06:00","v":200},{"t":"2015-06-05 08:00","v":185},{"t":"2015-06-05 10:00","v":170},{"t":"2015-06-05 12:00","v":166},{"t":"2015-06-05 14:00","v":175},{"t":"2015-06-05 16:00","v":190},{"t":"2015-06-05 18:00","v":220},{"t":"2015-06-05 20:00","v":260},{"t":"2015-06-05 22:00","v":284},
{"t":"2015-06-06 00:00","v":280},{"t":"2015-06-06 02:00","v":240},{"t":"2015-06-06 04:00","v":200},{"t":"2015-06-06 06:00","v":175},{"t":"2015-06-06 08:00","v":170},{"t":"2015-06-06 10:00","v":166},{"t":"2015-06-06 12:00","v":160},{"t":"2015-06-06 14:00","v":160},{"t":"2015-06-06 16:00","v":180},{"t":"2015-06-06 18:00","v":220},{"t":"2015-06-06 20:00","v":280},{"t":"2015-06-06 22:00","v":340},
{"t":"2015-06-07 00:00","v":386},{"t":"2015-06-07 01:00","v":370},{"t":"2015-06-07 02:00","v":300},{"t":"2015-06-07 04:00","v":240},{"t":"2015-06-07 06:00","v":200},{"t":"2015-06-07 08:00","v":175},{"t":"2015-06-07 10:00","v":160},{"t":"2015-06-07 12:00","v":150},{"t":"2015-06-07 14:00","v":149},{"t":"2015-06-07 16:00","v":150},{"t":"2015-06-07 18:00","v":155},{"t":"2015-06-07 20:00","v":160},{"t":"2015-06-07 22:00","v":165},
{"t":"2015-06-08 00:00","v":166},{"t":"2015-06-08 02:00","v":160},{"t":"2015-06-08 04:00","v":150},{"t":"2015-06-08 06:00","v":145},{"t":"2015-06-08 08:00","v":140},{"t":"2015-06-08 10:00","v":135},{"t":"2015-06-08 12:00","v":130},{"t":"2015-06-08 14:00","v":130},{"t":"2015-06-08 16:00","v":140},{"t":"2015-06-08 18:00","v":150},{"t":"2015-06-08 20:00","v":170},{"t":"2015-06-08 22:00","v":183},
{"t":"2015-06-09 00:00","v":175},{"t":"2015-06-09 02:00","v":155},{"t":"2015-06-09 04:00","v":135},{"t":"2015-06-09 06:00","v":125},{"t":"2015-06-09 08:00","v":118},{"t":"2015-06-09 10:00","v":115},{"t":"2015-06-09 12:00","v":112},{"t":"2015-06-09 14:00","v":110},{"t":"2015-06-09 16:00","v":112},{"t":"2015-06-09 18:00","v":118},{"t":"2015-06-09 20:00","v":125},{"t":"2015-06-09 22:00","v":132},{"t":"2015-06-09 23:45","v":1534},
{"t":"2015-06-10 00:00","v":130},{"t":"2015-06-10 02:00","v":120},{"t":"2015-06-10 04:00","v":110},{"t":"2015-06-10 06:00","v":100},{"t":"2015-06-10 08:00","v":95},{"t":"2015-06-10 10:00","v":90},{"t":"2015-06-10 12:00","v":85},{"t":"2015-06-10 14:00","v":85},{"t":"2015-06-10 16:00","v":90},{"t":"2015-06-10 18:00","v":95},{"t":"2015-06-10 19:00","v":150},{"t":"2015-06-10 20:00","v":300},{"t":"2015-06-10 20:30","v":700},{"t":"2015-06-10 21:00","v":1400},{"t":"2015-06-10 21:20","v":2027},{"t":"2015-06-10 21:40","v":2798},{"t":"2015-06-10 22:00","v":3061},{"t":"2015-06-10 22:20","v":3546},{"t":"2015-06-10 22:40","v":3576},{"t":"2015-06-10 23:00","v":3560},{"t":"2015-06-10 23:20","v":2876},{"t":"2015-06-10 23:40","v":2637},
{"t":"2015-06-11 00:00","v":2338},{"t":"2015-06-11 00:20","v":1800},{"t":"2015-06-11 00:40","v":1531},{"t":"2015-06-11 01:00","v":1348},{"t":"2015-06-11 01:30","v":1216},{"t":"2015-06-11 02:00","v":1131},{"t":"2015-06-11 02:30","v":1021},{"t":"2015-06-11 03:00","v":936},{"t":"2015-06-11 03:30","v":885},{"t":"2015-06-11 04:00","v":801},{"t":"2015-06-11 04:30","v":742},{"t":"2015-06-11 05:00","v":691},{"t":"2015-06-11 06:00","v":606},{"t":"2015-06-11 07:00","v":500},{"t":"2015-06-11 08:00","v":420},{"t":"2015-06-11 09:00","v":350},{"t":"2015-06-11 10:00","v":300},{"t":"2015-06-11 11:00","v":270},{"t":"2015-06-11 12:00","v":250},{"t":"2015-06-11 13:00","v":230},{"t":"2015-06-11 14:00","v":217},{"t":"2015-06-11 15:00","v":300},{"t":"2015-06-11 16:00","v":500},{"t":"2015-06-11 16:30","v":800},{"t":"2015-06-11 17:00","v":1131},{"t":"2015-06-11 17:20","v":1483},{"t":"2015-06-11 17:40","v":1834},{"t":"2015-06-11 18:00","v":2260},{"t":"2015-06-11 18:20","v":2804},{"t":"2015-06-11 18:40","v":3241},{"t":"2015-06-11 19:00","v":3522},{"t":"2015-06-11 19:20","v":3558},{"t":"2015-06-11 19:40","v":3540},{"t":"2015-06-11 20:00","v":3384},{"t":"2015-06-11 20:20","v":3079},{"t":"2015-06-11 20:40","v":2960},{"t":"2015-06-11 21:00","v":2667},{"t":"2015-06-11 21:20","v":2550},{"t":"2015-06-11 21:40","v":2326},{"t":"2015-06-11 22:00","v":2308},{"t":"2015-06-11 22:20","v":2003},{"t":"2015-06-11 22:40","v":1841},{"t":"2015-06-11 23:00","v":1638},{"t":"2015-06-11 23:20","v":1620},{"t":"2015-06-11 23:40","v":1483},
{"t":"2015-06-12 00:00","v":1343},{"t":"2015-06-12 00:30","v":1233},{"t":"2015-06-12 01:00","v":1207},{"t":"2015-06-12 01:30","v":1131},{"t":"2015-06-12 02:00","v":1046},{"t":"2015-06-12 02:30","v":885},{"t":"2015-06-12 03:00","v":800},{"t":"2015-06-12 03:30","v":740},{"t":"2015-06-12 04:00","v":680},{"t":"2015-06-12 05:00","v":560},{"t":"2015-06-12 06:00","v":450},{"t":"2015-06-12 07:00","v":380},{"t":"2015-06-12 08:00","v":320},{"t":"2015-06-12 09:00","v":280},{"t":"2015-06-12 10:00","v":250},{"t":"2015-06-12 12:00","v":230},{"t":"2015-06-12 14:00","v":220},{"t":"2015-06-12 16:00","v":200},{"t":"2015-06-12 18:00","v":180},{"t":"2015-06-12 20:00","v":165},{"t":"2015-06-12 22:00","v":150},
{"t":"2015-06-13 00:00","v":132},{"t":"2015-06-13 02:00","v":140},{"t":"2015-06-13 04:00","v":150},{"t":"2015-06-13 06:00","v":160},{"t":"2015-06-13 08:00","v":165},{"t":"2015-06-13 10:00","v":166},{"t":"2015-06-13 12:00","v":160},{"t":"2015-06-13 14:00","v":155},{"t":"2015-06-13 16:00","v":150},{"t":"2015-06-13 18:00","v":149},{"t":"2015-06-13 20:00","v":150},{"t":"2015-06-13 22:00","v":155},{"t":"2015-06-13 23:45","v":552},
{"t":"2015-06-14 00:00","v":160},{"t":"2015-06-14 02:00","v":150},{"t":"2015-06-14 04:00","v":145},{"t":"2015-06-14 06:00","v":140},{"t":"2015-06-14 08:00","v":140},{"t":"2015-06-14 10:00","v":160},{"t":"2015-06-14 12:00","v":183},{"t":"2015-06-14 14:00","v":170},{"t":"2015-06-14 16:00","v":160},{"t":"2015-06-14 18:00","v":170},{"t":"2015-06-14 19:00","v":200},{"t":"2015-06-14 20:00","v":250},{"t":"2015-06-14 20:30","v":327},{"t":"2015-06-14 21:00","v":378},{"t":"2015-06-14 21:30","v":462},{"t":"2015-06-14 22:00","v":691},{"t":"2015-06-14 22:30","v":775},{"t":"2015-06-14 23:00","v":1046},{"t":"2015-06-14 23:30","v":775},
{"t":"2015-06-15 00:00","v":462},{"t":"2015-06-15 00:30","v":300},{"t":"2015-06-15 01:00","v":250},{"t":"2015-06-15 02:00","v":200},{"t":"2015-06-15 04:00","v":150},{"t":"2015-06-15 06:00","v":130},{"t":"2015-06-15 08:00","v":120},{"t":"2015-06-15 10:00","v":115},{"t":"2015-06-15 12:00","v":115},{"t":"2015-06-15 15:00","v":118},{"t":"2015-06-15 18:00","v":112},{"t":"2015-06-15 21:00","v":110},
{"t":"2015-06-16 00:00","v":108},{"t":"2015-06-16 03:00","v":105},{"t":"2015-06-16 06:00","v":100},{"t":"2015-06-16 09:00","v":98},{"t":"2015-06-16 12:00","v":95},{"t":"2015-06-16 15:00","v":98},{"t":"2015-06-16 18:00","v":100},{"t":"2015-06-16 21:00","v":95},
{"t":"2015-06-17 00:00","v":90},{"t":"2015-06-17 03:00","v":85},{"t":"2015-06-17 06:00","v":82},{"t":"2015-06-17 09:00","v":80},{"t":"2015-06-17 12:00","v":80},{"t":"2015-06-17 15:00","v":82},{"t":"2015-06-17 18:00","v":85},{"t":"2015-06-17 21:00","v":80},
{"t":"2015-06-18 00:00","v":78},{"t":"2015-06-18 03:00","v":75},{"t":"2015-06-18 06:00","v":72},{"t":"2015-06-18 09:00","v":70},{"t":"2015-06-18 12:00","v":72},{"t":"2015-06-18 15:00","v":75},{"t":"2015-06-18 18:00","v":78},{"t":"2015-06-18 21:00","v":74},
{"t":"2015-06-19 00:00","v":72},{"t":"2015-06-19 03:00","v":70},{"t":"2015-06-19 06:00","v":72},{"t":"2015-06-19 09:00","v":75},{"t":"2015-06-19 12:00","v":80},{"t":"2015-06-19 14:00","v":120},{"t":"2015-06-19 15:00","v":191},{"t":"2015-06-19 15:30","v":170},{"t":"2015-06-19 16:00","v":140},{"t":"2015-06-19 17:00","v":115},{"t":"2015-06-19 18:00","v":95},{"t":"2015-06-19 21:00","v":85},
{"t":"2015-06-20 00:00","v":82},{"t":"2015-06-20 03:00","v":80},{"t":"2015-06-20 06:00","v":78},{"t":"2015-06-20 09:00","v":76},{"t":"2015-06-20 12:00","v":74},{"t":"2015-06-20 15:00","v":75},{"t":"2015-06-20 18:00","v":78},{"t":"2015-06-20 21:00","v":75},
{"t":"2015-06-21 00:00","v":72},{"t":"2015-06-21 03:00","v":68},{"t":"2015-06-21 06:00","v":65},{"t":"2015-06-21 09:00","v":62},{"t":"2015-06-21 12:00","v":62},{"t":"2015-06-21 15:00","v":64},{"t":"2015-06-21 18:00","v":66},{"t":"2015-06-21 21:00","v":63},
{"t":"2015-06-22 00:00","v":60},{"t":"2015-06-22 03:00","v":58},{"t":"2015-06-22 06:00","v":56},{"t":"2015-06-22 09:00","v":55},{"t":"2015-06-22 12:00","v":55},{"t":"2015-06-22 15:00","v":57},{"t":"2015-06-22 18:00","v":58},{"t":"2015-06-22 21:00","v":56},
{"t":"2015-06-23 00:00","v":54},{"t":"2015-06-23 03:00","v":52},{"t":"2015-06-23 06:00","v":50},{"t":"2015-06-23 09:00","v":48},{"t":"2015-06-23 12:00","v":48},{"t":"2015-06-23 15:00","v":50},{"t":"2015-06-23 18:00","v":52},{"t":"2015-06-23 21:00","v":50},
{"t":"2015-06-24 00:00","v":48},{"t":"2015-06-24 03:00","v":46},{"t":"2015-06-24 06:00","v":45},{"t":"2015-06-24 09:00","v":44},{"t":"2015-06-24 12:00","v":44},{"t":"2015-06-24 15:00","v":45},{"t":"2015-06-24 18:00","v":46},{"t":"2015-06-24 21:00","v":45},
{"t":"2015-06-25 00:00","v":44},{"t":"2015-06-25 03:00","v":42},{"t":"2015-06-25 06:00","v":41},{"t":"2015-06-25 09:00","v":40},{"t":"2015-06-25 12:00","v":40},{"t":"2015-06-25 15:00","v":41},{"t":"2015-06-25 18:00","v":42},{"t":"2015-06-25 21:00","v":41},
{"t":"2015-06-26 00:00","v":40},{"t":"2015-06-26 03:00","v":39},{"t":"2015-06-26 06:00","v":38},{"t":"2015-06-26 09:00","v":37},{"t":"2015-06-26 12:00","v":37},{"t":"2015-06-26 15:00","v":38},{"t":"2015-06-26 18:00","v":40},{"t":"2015-06-26 21:00","v":39},
{"t":"2015-06-27 00:00","v":38},{"t":"2015-06-27 03:00","v":37},{"t":"2015-06-27 06:00","v":36},{"t":"2015-06-27 09:00","v":35},{"t":"2015-06-27 12:00","v":35},{"t":"2015-06-27 15:00","v":36},{"t":"2015-06-27 18:00","v":38},{"t":"2015-06-27 21:00","v":37},
{"t":"2015-06-28 00:00","v":36},{"t":"2015-06-28 03:00","v":35},{"t":"2015-06-28 06:00","v":34},{"t":"2015-06-28 09:00","v":33},{"t":"2015-06-28 12:00","v":33},{"t":"2015-06-28 15:00","v":34},{"t":"2015-06-28 18:00","v":36},{"t":"2015-06-28 21:00","v":35},
{"t":"2015-06-29 00:00","v":34},{"t":"2015-06-29 03:00","v":33},{"t":"2015-06-29 06:00","v":32},{"t":"2015-06-29 09:00","v":31},{"t":"2015-06-29 12:00","v":31},{"t":"2015-06-29 15:00","v":32},{"t":"2015-06-29 18:00","v":36},{"t":"2015-06-29 21:00","v":40},{"t":"2015-06-29 23:00","v":60},
{"t":"2015-06-30 00:00","v":73},{"t":"2015-06-30 03:00","v":50},{"t":"2015-06-30 06:00","v":35},{"t":"2015-06-30 09:00","v":32},{"t":"2015-06-30 12:00","v":30},{"t":"2015-06-30 15:00","v":31},{"t":"2015-06-30 16:00","v":56},{"t":"2015-06-30 18:00","v":40},{"t":"2015-06-30 21:00","v":34},
{"t":"2015-07-01 00:00","v":33},{"t":"2015-07-01 03:00","v":31},{"t":"2015-07-01 06:00","v":30},{"t":"2015-07-01 09:00","v":29},{"t":"2015-07-01 12:00","v":30},{"t":"2015-07-01 13:00","v":28}
]},
"mark":{"type":"point","shape":"M-1,-1L1,1M-1,1L1,-1","filled":false,"size":40,"strokeWidth":2.2,"opacity":1},
"encoding":{
"x":{"field":"t","type":"temporal","scale":{"domain":[{"year":2015,"month":4,"date":16},{"year":2015,"month":7,"date":5}],"nice":false},
"axis":{"values":[{"year":2015,"month":4,"date":16},{"year":2015,"month":4,"date":26},{"year":2015,"month":5,"date":6},{"year":2015,"month":5,"date":16},{"year":2015,"month":5,"date":26},{"year":2015,"month":6,"date":5},{"year":2015,"month":6,"date":15},{"year":2015,"month":6,"date":25},{"year":2015,"month":7,"date":5}],"format":"%-m/%-d/%Y","labelFont":"Liberation Serif","labelFontSize":31,"labelAngle":25,"labelAlign":"left","labelBaseline":"top","labelPadding":28,"labelOffset":5,"labelFlush":false,"labelOverlap":false,"labelBound":false,"grid":false,"title":null}},
"y":{"field":"v","type":"quantitative","scale":{"domain":[0,4000],"nice":false},
"axis":{"values":[0,500,1000,1500,2000,2500,3000,3500,4000],"format":"d","labelFont":"Liberation Serif","labelFontSize":32,"labelPadding":29,"grid":true,"gridDash":[10,6],"gridWidth":1.6,"gridColor":{"condition":{"test":"datum.value==0||datum.value==4000","value":"transparent"},"value":"#BFBFBF"},"title":"Suspended Sediment (mg/l)","titleFont":"Liberation Serif","titleAngle":-90,"titleX":-161,"titleY":482,"titleAlign":"center","titleBaseline":"middle"}},
"color":{"datum":"Upstream","type":"nominal","scale":{"domain":["Upstream","Downstream"],"range":["#0070C0","#C0504D"]},
"legend":{"title":null,"orient":"none","direction":"horizontal","legendX":553,"legendY":973,"padding":0,"symbolType":"M-1,-1L1,1M-1,1L1,-1","symbolSize":25,"symbolStrokeWidth":1.6,"labelOffset":0,"columnPadding":24,"labelFont":"Liberation Serif","labelFontSize":32,"labelLimit":0}}
}},
{"data":{"format":{"parse":{"t":"date:'%Y-%m-%d %H:%M'"}},"values":[
{"t":"2015-04-28 11:00","v":60},{"t":"2015-04-28 12:00","v":65},{"t":"2015-04-28 14:00","v":55},{"t":"2015-04-28 16:00","v":45},{"t":"2015-04-28 18:00","v":35},{"t":"2015-04-28 20:00","v":30},{"t":"2015-04-28 22:00","v":28},
{"t":"2015-04-29 00:00","v":25},{"t":"2015-04-29 04:00","v":24},{"t":"2015-04-29 08:00","v":22},{"t":"2015-04-29 12:00","v":22},{"t":"2015-04-29 16:00","v":20},{"t":"2015-04-29 20:00","v":20},
{"t":"2015-04-30 00:00","v":20},{"t":"2015-04-30 04:00","v":18},{"t":"2015-04-30 08:00","v":18},{"t":"2015-04-30 12:00","v":18},{"t":"2015-04-30 16:00","v":17},{"t":"2015-04-30 20:00","v":17},
{"t":"2015-05-01 00:00","v":16},{"t":"2015-05-01 04:00","v":16},{"t":"2015-05-01 08:00","v":16},{"t":"2015-05-01 12:00","v":18},{"t":"2015-05-01 16:00","v":30},{"t":"2015-05-01 20:00","v":22},
{"t":"2015-05-02 00:00","v":15},{"t":"2015-05-02 04:00","v":13},{"t":"2015-05-02 08:00","v":12},{"t":"2015-05-02 12:00","v":12},{"t":"2015-05-02 16:00","v":11},{"t":"2015-05-02 20:00","v":11},
{"t":"2015-05-03 00:00","v":11},{"t":"2015-05-03 04:00","v":10},{"t":"2015-05-03 08:00","v":10},{"t":"2015-05-03 12:00","v":10},{"t":"2015-05-03 16:00","v":10},{"t":"2015-05-03 20:00","v":10},
{"t":"2015-05-04 00:00","v":10},{"t":"2015-05-04 04:00","v":10},{"t":"2015-05-04 08:00","v":9},{"t":"2015-05-04 12:00","v":9},{"t":"2015-05-04 16:00","v":9},{"t":"2015-05-04 20:00","v":9},{"t":"2015-05-04 22:00","v":9},
{"t":"2015-05-05 18:00","v":60},{"t":"2015-05-05 20:00","v":50},{"t":"2015-05-05 22:00","v":35},{"t":"2015-05-06 00:00","v":22},{"t":"2015-05-06 04:00","v":15},{"t":"2015-05-06 08:00","v":12},{"t":"2015-05-06 12:00","v":12},{"t":"2015-05-06 16:00","v":12},
{"t":"2015-05-08 16:00","v":25},{"t":"2015-05-08 20:00","v":22},
{"t":"2015-05-09 00:00","v":22},{"t":"2015-05-09 04:00","v":22},{"t":"2015-05-09 08:00","v":22},{"t":"2015-05-09 12:00","v":24},{"t":"2015-05-09 16:00","v":22},{"t":"2015-05-09 20:00","v":22},
{"t":"2015-05-10 00:00","v":24},{"t":"2015-05-10 04:00","v":22},{"t":"2015-05-10 08:00","v":22},{"t":"2015-05-10 12:00","v":22},{"t":"2015-05-10 16:00","v":22},{"t":"2015-05-10 20:00","v":24},
{"t":"2015-05-11 00:00","v":25},{"t":"2015-05-11 04:00","v":25},{"t":"2015-05-11 08:00","v":28},{"t":"2015-05-11 12:00","v":30},{"t":"2015-05-11 16:00","v":35},{"t":"2015-05-11 20:00","v":38},
{"t":"2015-05-12 00:00","v":40},{"t":"2015-05-12 04:00","v":38},{"t":"2015-05-12 08:00","v":38},{"t":"2015-05-12 12:00","v":40},{"t":"2015-05-12 16:00","v":40},{"t":"2015-05-12 20:00","v":42},
{"t":"2015-05-13 00:00","v":42},{"t":"2015-05-13 04:00","v":40},{"t":"2015-05-13 08:00","v":45},{"t":"2015-05-13 12:00","v":47},{"t":"2015-05-13 16:00","v":60},{"t":"2015-05-13 20:00","v":50},
{"t":"2015-05-14 00:00","v":47},{"t":"2015-05-14 04:00","v":47},{"t":"2015-05-14 07:00","v":146},{"t":"2015-05-14 08:00","v":45},{"t":"2015-05-14 12:00","v":45},{"t":"2015-05-14 16:00","v":40},{"t":"2015-05-14 20:00","v":35},
{"t":"2015-05-15 00:00","v":30},{"t":"2015-05-15 04:00","v":25},{"t":"2015-05-15 08:00","v":20},{"t":"2015-05-15 12:00","v":15},{"t":"2015-05-15 16:00","v":14},
{"t":"2015-05-19 16:00","v":17},{"t":"2015-05-19 20:00","v":16},
{"t":"2015-05-20 00:00","v":16},{"t":"2015-05-20 04:00","v":15},{"t":"2015-05-20 08:00","v":15},{"t":"2015-05-20 12:00","v":15},{"t":"2015-05-20 16:00","v":15},{"t":"2015-05-20 20:00","v":15},
{"t":"2015-05-21 00:00","v":15},{"t":"2015-05-21 04:00","v":15},{"t":"2015-05-21 08:00","v":14},{"t":"2015-05-21 12:00","v":14},{"t":"2015-05-21 16:00","v":14},{"t":"2015-05-21 20:00","v":14},
{"t":"2015-05-22 00:00","v":14},{"t":"2015-05-22 04:00","v":14},{"t":"2015-05-22 08:00","v":14},{"t":"2015-05-22 12:00","v":14},{"t":"2015-05-22 16:00","v":14},{"t":"2015-05-22 20:00","v":14},
{"t":"2015-05-23 00:00","v":14},{"t":"2015-05-23 04:00","v":14},{"t":"2015-05-23 08:00","v":14},{"t":"2015-05-23 12:00","v":14},{"t":"2015-05-23 16:00","v":13},{"t":"2015-05-23 20:00","v":13},
{"t":"2015-05-24 00:00","v":13},{"t":"2015-05-24 04:00","v":13},{"t":"2015-05-24 08:00","v":13},{"t":"2015-05-24 12:00","v":13},{"t":"2015-05-24 16:00","v":13},{"t":"2015-05-24 20:00","v":13},
{"t":"2015-05-25 00:00","v":13},{"t":"2015-05-25 04:00","v":12},{"t":"2015-05-25 08:00","v":12},{"t":"2015-05-25 12:00","v":12},{"t":"2015-05-25 16:00","v":12},{"t":"2015-05-25 20:00","v":12},
{"t":"2015-05-26 00:00","v":12},{"t":"2015-05-26 04:00","v":12},{"t":"2015-05-26 08:00","v":12},{"t":"2015-05-26 12:00","v":12},{"t":"2015-05-26 14:00","v":12},
{"t":"2015-05-28 12:00","v":30},{"t":"2015-05-28 16:00","v":31},{"t":"2015-05-28 20:00","v":32},
{"t":"2015-05-29 00:00","v":33},{"t":"2015-05-29 04:00","v":34},{"t":"2015-05-29 08:00","v":35},{"t":"2015-05-29 12:00","v":36},{"t":"2015-05-29 16:00","v":37},{"t":"2015-05-29 20:00","v":38},
{"t":"2015-05-30 00:00","v":39},{"t":"2015-05-30 04:00","v":40},{"t":"2015-05-30 08:00","v":41},{"t":"2015-05-30 12:00","v":42},{"t":"2015-05-30 16:00","v":43},{"t":"2015-05-30 20:00","v":44},
{"t":"2015-05-31 00:00","v":44},{"t":"2015-05-31 04:00","v":45},{"t":"2015-05-31 08:00","v":46},{"t":"2015-05-31 12:00","v":60},{"t":"2015-05-31 14:00","v":68},{"t":"2015-05-31 16:00","v":55},{"t":"2015-05-31 20:00","v":48},
{"t":"2015-06-01 00:00","v":47},{"t":"2015-06-01 04:00","v":48},{"t":"2015-06-01 08:00","v":50},{"t":"2015-06-01 12:00","v":52},{"t":"2015-06-01 16:00","v":54},{"t":"2015-06-01 20:00","v":55},
{"t":"2015-06-02 00:00","v":56},{"t":"2015-06-02 01:00","v":70},{"t":"2015-06-02 02:00","v":90},{"t":"2015-06-02 03:00","v":268},{"t":"2015-06-02 04:00","v":462},{"t":"2015-06-02 05:00","v":632},{"t":"2015-06-02 06:00","v":742},{"t":"2015-06-02 06:30","v":826},{"t":"2015-06-02 07:00","v":911},{"t":"2015-06-02 07:30","v":995},{"t":"2015-06-02 08:00","v":960},{"t":"2015-06-02 08:30","v":1046},{"t":"2015-06-02 09:00","v":1114},{"t":"2015-06-02 09:30","v":1165},{"t":"2015-06-02 10:00","v":1267},{"t":"2015-06-02 10:30","v":1385},{"t":"2015-06-02 11:00","v":1487},{"t":"2015-06-02 11:30","v":1592},{"t":"2015-06-02 12:00","v":1644},{"t":"2015-06-02 12:30","v":1440},{"t":"2015-06-02 13:00","v":1317},{"t":"2015-06-02 13:30","v":1200},{"t":"2015-06-02 14:00","v":1140},{"t":"2015-06-02 15:00","v":1046},{"t":"2015-06-02 16:00","v":995},{"t":"2015-06-02 17:00","v":911},{"t":"2015-06-02 18:00","v":826},{"t":"2015-06-02 19:00","v":742},{"t":"2015-06-02 20:00","v":691},{"t":"2015-06-02 21:00","v":640},{"t":"2015-06-02 22:00","v":589},{"t":"2015-06-02 23:00","v":505},
{"t":"2015-06-03 00:00","v":450},{"t":"2015-06-03 01:00","v":400},{"t":"2015-06-03 02:00","v":352},{"t":"2015-06-03 04:00","v":280},{"t":"2015-06-03 06:00","v":230},{"t":"2015-06-03 08:00","v":200},{"t":"2015-06-03 10:00","v":180},{"t":"2015-06-03 12:00","v":166},{"t":"2015-06-03 14:00","v":150},{"t":"2015-06-03 16:00","v":140},{"t":"2015-06-03 20:00","v":125},
{"t":"2015-06-04 00:00","v":115},{"t":"2015-06-04 04:00","v":108},{"t":"2015-06-04 08:00","v":102},{"t":"2015-06-04 12:00","v":98},{"t":"2015-06-04 16:00","v":95},{"t":"2015-06-04 20:00","v":92},
{"t":"2015-06-05 00:00","v":88},{"t":"2015-06-05 04:00","v":110},{"t":"2015-06-05 08:00","v":82},{"t":"2015-06-05 12:00","v":80},{"t":"2015-06-05 16:00","v":76},{"t":"2015-06-05 20:00","v":72},
{"t":"2015-06-06 00:00","v":70},{"t":"2015-06-06 04:00","v":67},{"t":"2015-06-06 08:00","v":64},{"t":"2015-06-06 12:00","v":62},{"t":"2015-06-06 16:00","v":60},{"t":"2015-06-06 20:00","v":58},
{"t":"2015-06-07 00:00","v":56},{"t":"2015-06-07 04:00","v":54},{"t":"2015-06-07 08:00","v":52},{"t":"2015-06-07 12:00","v":50},{"t":"2015-06-07 16:00","v":48},{"t":"2015-06-07 20:00","v":46},
{"t":"2015-06-08 00:00","v":44},{"t":"2015-06-08 04:00","v":43},{"t":"2015-06-08 08:00","v":42},{"t":"2015-06-08 12:00","v":40},{"t":"2015-06-08 16:00","v":39},{"t":"2015-06-08 20:00","v":38},
{"t":"2015-06-09 00:00","v":37},{"t":"2015-06-09 04:00","v":36},{"t":"2015-06-09 08:00","v":35},{"t":"2015-06-09 12:00","v":34},{"t":"2015-06-09 16:00","v":33},{"t":"2015-06-09 20:00","v":32},
{"t":"2015-06-10 00:00","v":32},{"t":"2015-06-10 04:00","v":31},{"t":"2015-06-10 08:00","v":31},{"t":"2015-06-10 12:00","v":30},{"t":"2015-06-10 16:00","v":30},{"t":"2015-06-10 17:00","v":378},{"t":"2015-06-10 17:20","v":1231},{"t":"2015-06-10 17:40","v":3600},{"t":"2015-06-10 18:00","v":3820},{"t":"2015-06-10 18:20","v":3773},{"t":"2015-06-10 18:40","v":2155},{"t":"2015-06-10 19:00","v":1808},{"t":"2015-06-10 19:30","v":1236},{"t":"2015-06-10 20:00","v":1106},{"t":"2015-06-10 20:30","v":1082},{"t":"2015-06-10 21:00","v":600},{"t":"2015-06-10 21:30","v":378},{"t":"2015-06-10 22:00","v":276},{"t":"2015-06-10 23:00","v":217},
{"t":"2015-06-11 00:00","v":174},{"t":"2015-06-11 01:00","v":140},{"t":"2015-06-11 02:00","v":115},{"t":"2015-06-11 04:00","v":90},{"t":"2015-06-11 06:00","v":81},{"t":"2015-06-11 08:00","v":70},{"t":"2015-06-11 10:00","v":80},{"t":"2015-06-11 12:00","v":98},{"t":"2015-06-11 14:00","v":70},{"t":"2015-06-11 16:00","v":60},{"t":"2015-06-11 20:00","v":80},{"t":"2015-06-11 21:00","v":140},{"t":"2015-06-11 22:00","v":174},{"t":"2015-06-11 23:00","v":120},
{"t":"2015-06-12 00:00","v":90},{"t":"2015-06-12 04:00","v":60},{"t":"2015-06-12 08:00","v":50},{"t":"2015-06-12 12:00","v":45},{"t":"2015-06-12 16:00","v":39},{"t":"2015-06-12 20:00","v":35},
{"t":"2015-06-13 00:00","v":30},{"t":"2015-06-13 04:00","v":25},{"t":"2015-06-13 08:00","v":22},{"t":"2015-06-13 12:00","v":22},{"t":"2015-06-13 16:00","v":22},{"t":"2015-06-13 20:00","v":22},
{"t":"2015-06-14 00:00","v":22},{"t":"2015-06-14 04:00","v":22},{"t":"2015-06-14 08:00","v":22},{"t":"2015-06-14 12:00","v":22},{"t":"2015-06-14 16:00","v":60},{"t":"2015-06-14 17:00","v":81},{"t":"2015-06-14 18:00","v":40},{"t":"2015-06-14 20:00","v":22},
{"t":"2015-06-15 00:00","v":22},{"t":"2015-06-15 04:00","v":20},{"t":"2015-06-15 08:00","v":20},{"t":"2015-06-15 12:00","v":18},{"t":"2015-06-15 16:00","v":18},{"t":"2015-06-15 20:00","v":18},
{"t":"2015-06-16 00:00","v":17},{"t":"2015-06-16 04:00","v":16},{"t":"2015-06-16 08:00","v":16},{"t":"2015-06-16 12:00","v":15},{"t":"2015-06-16 16:00","v":15},{"t":"2015-06-16 20:00","v":15},
{"t":"2015-06-17 00:00","v":14},{"t":"2015-06-17 04:00","v":14},{"t":"2015-06-17 08:00","v":14},{"t":"2015-06-17 12:00","v":30},{"t":"2015-06-17 14:00","v":80},{"t":"2015-06-17 15:20","v":437},{"t":"2015-06-17 16:00","v":40},{"t":"2015-06-17 20:00","v":14},
{"t":"2015-06-18 00:00","v":13},{"t":"2015-06-18 04:00","v":13},{"t":"2015-06-18 08:00","v":13},{"t":"2015-06-18 10:00","v":90},{"t":"2015-06-18 11:00","v":169},{"t":"2015-06-18 11:30","v":208},{"t":"2015-06-18 12:00","v":225},{"t":"2015-06-18 13:00","v":30},{"t":"2015-06-18 16:00","v":13},{"t":"2015-06-18 20:00","v":12},
{"t":"2015-06-19 00:00","v":12},{"t":"2015-06-19 04:00","v":12},{"t":"2015-06-19 08:00","v":12},{"t":"2015-06-19 12:00","v":12},{"t":"2015-06-19 16:00","v":12},{"t":"2015-06-19 20:00","v":12},
{"t":"2015-06-20 00:00","v":11},{"t":"2015-06-20 04:00","v":11},{"t":"2015-06-20 08:00","v":11},{"t":"2015-06-20 12:00","v":11},{"t":"2015-06-20 16:00","v":11},{"t":"2015-06-20 20:00","v":11},
{"t":"2015-06-21 00:00","v":11},{"t":"2015-06-21 04:00","v":11},{"t":"2015-06-21 08:00","v":11},{"t":"2015-06-21 12:00","v":11},{"t":"2015-06-21 16:00","v":11},{"t":"2015-06-21 20:00","v":11},
{"t":"2015-06-22 00:00","v":10},{"t":"2015-06-22 02:00","v":39},{"t":"2015-06-22 04:00","v":12},{"t":"2015-06-22 08:00","v":10},{"t":"2015-06-22 12:00","v":10},{"t":"2015-06-22 16:00","v":10},{"t":"2015-06-22 20:00","v":10},
{"t":"2015-06-23 00:00","v":10},{"t":"2015-06-23 04:00","v":10},{"t":"2015-06-23 08:00","v":9},{"t":"2015-06-23 12:00","v":9},{"t":"2015-06-23 16:00","v":9},{"t":"2015-06-23 20:00","v":9},
{"t":"2015-06-24 00:00","v":9},{"t":"2015-06-24 04:00","v":9},{"t":"2015-06-24 08:00","v":9},{"t":"2015-06-24 12:00","v":9},{"t":"2015-06-24 16:00","v":9},{"t":"2015-06-24 20:00","v":9},
{"t":"2015-06-25 00:00","v":9},{"t":"2015-06-25 04:00","v":9},{"t":"2015-06-25 08:00","v":9},{"t":"2015-06-25 12:00","v":9},{"t":"2015-06-25 16:00","v":9},{"t":"2015-06-25 20:00","v":9},
{"t":"2015-06-26 00:00","v":8},{"t":"2015-06-26 04:00","v":8},{"t":"2015-06-26 08:00","v":8},{"t":"2015-06-26 12:00","v":8},{"t":"2015-06-26 16:00","v":8},{"t":"2015-06-26 20:00","v":8},
{"t":"2015-06-27 00:00","v":8},{"t":"2015-06-27 04:00","v":8},{"t":"2015-06-27 08:00","v":8},{"t":"2015-06-27 12:00","v":8},{"t":"2015-06-27 16:00","v":8},{"t":"2015-06-27 20:00","v":8},
{"t":"2015-06-28 00:00","v":8},{"t":"2015-06-28 04:00","v":8},{"t":"2015-06-28 08:00","v":8},{"t":"2015-06-28 12:00","v":8},{"t":"2015-06-28 16:00","v":8},{"t":"2015-06-28 20:00","v":8},
{"t":"2015-06-29 00:00","v":8},{"t":"2015-06-29 04:00","v":8},{"t":"2015-06-29 08:00","v":8},{"t":"2015-06-29 12:00","v":8},{"t":"2015-06-29 16:00","v":8},{"t":"2015-06-29 20:00","v":8},
{"t":"2015-06-30 00:00","v":8},{"t":"2015-06-30 04:00","v":8},{"t":"2015-06-30 08:00","v":8},{"t":"2015-06-30 12:00","v":8},{"t":"2015-06-30 16:00","v":8},{"t":"2015-06-30 20:00","v":8},
{"t":"2015-07-01 00:00","v":8},{"t":"2015-07-01 02:00","v":8}
]},
"mark":{"type":"point","shape":"M-1,-1L1,1M-1,1L1,-1","filled":false,"size":40,"strokeWidth":2.2,"opacity":1},
"encoding":{
"x":{"field":"t","type":"temporal"},
"y":{"field":"v","type":"quantitative"},
"color":{"datum":"Downstream","type":"nominal"}
}},
{"data":{"format":{"parse":{"t":"date:'%Y-%m-%d %H:%M'"}},"values":[{"t":"2015-06-14 03:00","v":1847}]},
"mark":{"type":"point","shape":"M0,-1C0.2292,-1,0.415,-0.5523,0.415,0C0.415,0.5523,0.2292,1,0,1C-0.2292,1,-0.415,0.5523,-0.415,0C-0.415,-0.5523,-0.2292,-1,0,-1Z","filled":false,"size":864900,"stroke":"#FF0000","strokeWidth":5,"opacity":1},
"encoding":{
"x":{"field":"t","type":"temporal"},
"y":{"field":"v","type":"quantitative"}
}}
]
}
